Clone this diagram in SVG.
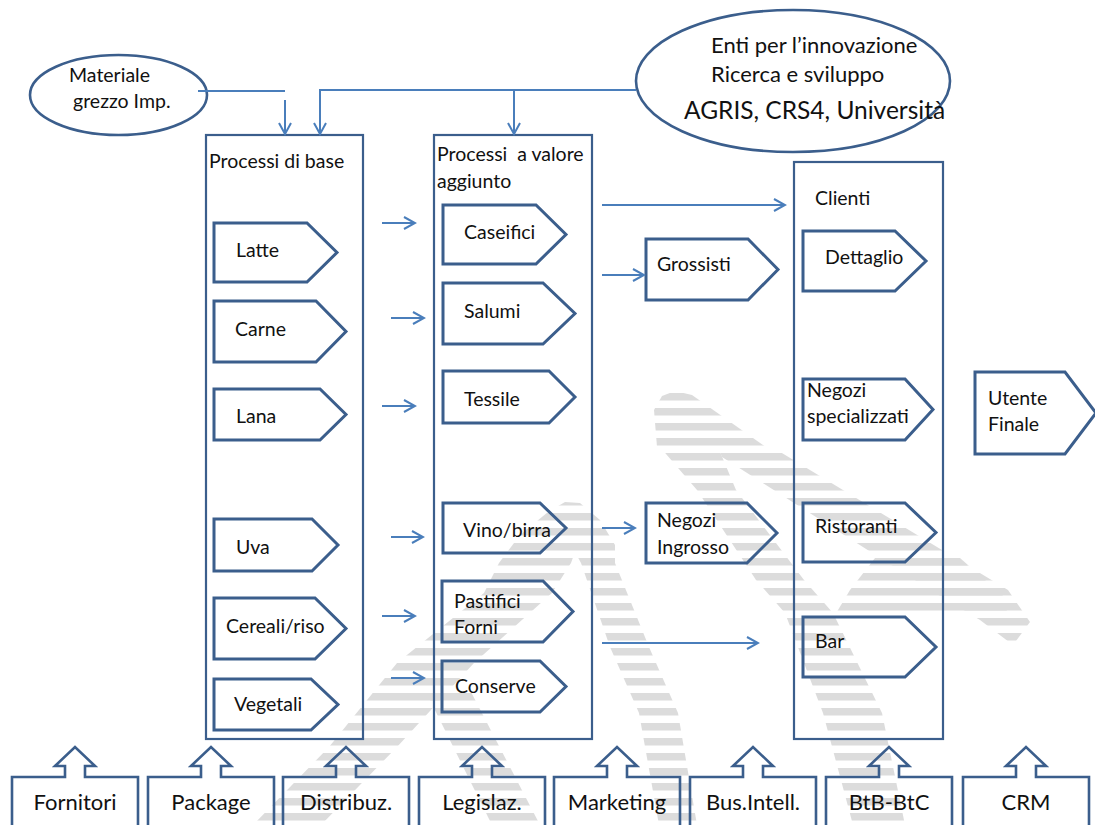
<svg xmlns="http://www.w3.org/2000/svg" width="1095" height="825" viewBox="0 0 1095 825">
  <defs>
    <style>
      .t { font-family: Lato, "Liberation Sans", sans-serif; font-size: 19.5px; fill: #111; }
      .big { font-size: 22px; }
      .huge { font-size: 24.5px; }
      .lbl { font-size: 22px; text-anchor: middle; }
      .box { fill: none; stroke: #3b5e8c; stroke-width: 2.2; }
      .pent { fill: none; stroke: #3b5e8c; stroke-width: 3; stroke-linejoin: miter; }
      .ell { fill: none; stroke: #3b5e8c; stroke-width: 2.6; }
      .up { fill: none; stroke: #3b5e8c; stroke-width: 2.6; stroke-linejoin: miter; }
      .c { fill: none; stroke: #4a7ebb; stroke-width: 2; }
      .ca { fill: none; stroke: #4a7ebb; stroke-width: 2; marker-end: url(#arr); }
    </style>
    <pattern id="hatch" patternUnits="userSpaceOnUse" x="0" y="393" width="40" height="15">
      <rect x="0" y="0" width="40" height="7.5" fill="#dcdcdc"/>
    </pattern>
    <marker id="arr" viewBox="0 0 14 14" refX="12" refY="7" markerWidth="14" markerHeight="14" markerUnits="userSpaceOnUse" orient="auto">
      <path d="M1,1 L12,7 L1,13" fill="none" stroke="#4a7ebb" stroke-width="2"/>
    </marker>
  </defs>

  <!-- background logo, striped -->
  <g id="logo" fill="url(#hatch)">
    <!-- left A -->
    <path d="M548,512 L565,502 L580,503 L600,520 L615,545 L615,563 L649,647 L678,713 L697,825 L659,825 L639,713 L610,647 L581,563 L575,552 L571,563 L552,593 L474,663 L397,747 L321,825 L253,825 L329,747 L397,663 L484,593 L499,563 L520,535 Z"/>
    <path d="M425,690 L470,690 L540,825 L492,825 Z"/>
    <!-- right A -->
    <path d="M657,447 L654,410 L662,396 L675,391 L692,395 L770,450 Z"/>
    <path d="M660,447 L718,447 L736,490 L804,580 L833,613 L882,713 L905,825 L853,825 L823,713 L785,613 L756,580 L697,490 Z"/>
    <path d="M718,447 L772,447 L1008,590 L1030,622 L1013,645 L980,620 L935,593 L722,457 Z"/>
    <path d="M875,558 L960,558 L1010,602 L1005,615 L835,615 L850,590 Z"/>
  </g>

  <!-- containers -->
  <g id="base-box"><rect class="box" x="206" y="135" width="157" height="604"/>
    <text class="t" x="209" y="168">Processi di base</text></g>
  <g id="value-box"><rect class="box" x="434" y="135" width="158" height="604"/>
    <text class="t" x="437" y="161" style="white-space:pre">Processi  a valore</text>
    <text class="t" x="437" y="188">aggiunto</text></g>
  <g id="clients-box"><rect class="box" x="794" y="162" width="149" height="577"/>
    <text class="t" x="815" y="205">Clienti</text></g>

  <!-- top ellipses -->
  <g id="materiale"><ellipse class="ell" cx="118.5" cy="95" rx="88.5" ry="40"/>
    <text class="t" x="69" y="82">Materiale</text>
    <text class="t" x="73" y="108">grezzo Imp.</text></g>
  <g id="enti"><ellipse class="ell" cx="793" cy="81" rx="157" ry="71"/>
    <text class="t big" x="711" y="53">Enti per l’innovazione</text>
    <text class="t big" x="711" y="82">Ricerca e sviluppo</text>
    <text class="t huge" x="684" y="119">AGRIS, CRS4, Università</text></g>

  <!-- basic products -->
  <g id="latte"><path class="pent" d="M214,223 H307 L337,252.5 L307,282 H214 Z"/><text class="t" x="236" y="257">Latte</text></g>
  <g id="carne"><path class="pent" d="M214,301 H316 L346,331.5 L316,362 H214 Z"/><text class="t" x="235" y="336">Carne</text></g>
  <g id="lana"><path class="pent" d="M214,389 H320 L346,414.5 L320,440 H214 Z"/><text class="t" x="236" y="423">Lana</text></g>
  <g id="uva"><path class="pent" d="M214,519 H312 L338,545 L312,571 H214 Z"/><text class="t" x="236" y="554">Uva</text></g>
  <g id="cereali"><path class="pent" d="M214,598 H315 L346,628.5 L315,659 H214 Z"/><text class="t" x="226" y="633">Cereali/riso</text></g>
  <g id="vegetali"><path class="pent" d="M214,679 H311 L338,704.5 L311,730 H214 Z"/><text class="t" x="234" y="711">Vegetali</text></g>

  <!-- value-added processes -->
  <g id="caseifici"><path class="pent" d="M443,205 H536 L566,234.5 L536,264 H443 Z"/><text class="t" x="464" y="239">Caseifici</text></g>
  <g id="salumi"><path class="pent" d="M443,283 H543 L575,313.5 L543,344 H443 Z"/><text class="t" x="464" y="318">Salumi</text></g>
  <g id="tessile"><path class="pent" d="M443,371 H549 L575,397 L549,423 H443 Z"/><text class="t" x="464" y="406">Tessile</text></g>
  <g id="vino"><path class="pent" d="M443,503 H540 L566,528 L540,553 H443 Z"/><text class="t" x="463" y="537">Vino/birra</text></g>
  <g id="pastifici"><path class="pent" d="M442,581 H543 L573,611.5 L543,642 H442 Z"/>
    <text class="t" x="454" y="608">Pastifici</text><text class="t" x="454" y="634">Forni</text></g>
  <g id="conserve"><path class="pent" d="M442,661 H540 L566,686.5 L540,712 H442 Z"/><text class="t" x="455" y="693">Conserve</text></g>

  <!-- distribution -->
  <g id="grossisti"><path class="pent" d="M646,239 H748 L778,269.5 L748,300 H646 Z"/><text class="t" x="657" y="271">Grossisti</text></g>
  <g id="ingrosso"><path class="pent" d="M646,503 H747 L777,533 L747,563 H646 Z"/>
    <text class="t" x="657" y="527">Negozi</text><text class="t" x="657" y="554">Ingrosso</text></g>

  <!-- clients -->
  <g id="dettaglio"><path class="pent" d="M803,231 H895 L926,261 L895,291 H803 Z"/><text class="t" x="825" y="264">Dettaglio</text></g>
  <g id="specializzati"><path class="pent" d="M803,379 H905 L933,409.5 L905,440 H803 Z"/>
    <text class="t" x="807" y="397">Negozi</text><text class="t" x="807" y="423">specializzati</text></g>
  <g id="ristoranti"><path class="pent" d="M803,503 H905 L936,532.5 L905,562 H803 Z"/><text class="t" x="815" y="533">Ristoranti</text></g>
  <g id="bar"><path class="pent" d="M803,617 H905 L936,647 L905,677 H803 Z"/><text class="t" x="815" y="648">Bar</text></g>
  <g id="utente"><path class="pent" d="M975,372 H1065 L1096,413 L1065,454 H975 Z"/>
    <text class="t" x="988" y="405">Utente</text><text class="t" x="988" y="431">Finale</text></g>

  <!-- support services along the bottom -->
  <g id="fornitori"><path class="up" d="M12,830 V777 H65 V766 H55 L75,747 L95,766 H85 V777 H138 V830"/><text class="t lbl" x="75" y="810">Fornitori</text></g>
  <g id="package"><path class="up" d="M148,830 V777 H201 V766 H191 L211,747 L231,766 H221 V777 H274 V830"/><text class="t lbl" x="211" y="810">Package</text></g>
  <g id="distribuz"><path class="up" d="M283,830 V777 H336 V766 H326 L346,747 L366,766 H356 V777 H409 V830"/><text class="t lbl" x="346" y="810">Distribuz.</text></g>
  <g id="legislaz"><path class="up" d="M419,830 V777 H472 V766 H462 L482,747 L502,766 H492 V777 H545 V830"/><text class="t lbl" x="482" y="810">Legislaz.</text></g>
  <g id="marketing"><path class="up" d="M554,830 V777 H607 V766 H597 L617,747 L637,766 H627 V777 H680 V830"/><text class="t lbl" x="617" y="810">Marketing</text></g>
  <g id="busintell"><path class="up" d="M690,830 V777 H743 V766 H733 L753,747 L773,766 H763 V777 H816 V830"/><text class="t lbl" x="753" y="810">Bus.Intell.</text></g>
  <g id="btb"><path class="up" d="M826,830 V777 H879 V766 H869 L889,747 L909,766 H899 V777 H952 V830"/><text class="t lbl" x="889" y="810">BtB-BtC</text></g>
  <g id="crm"><path class="up" d="M963,830 V777 H1016 V766 H1006 L1026,747 L1046,766 H1036 V777 H1089 V830"/><text class="t lbl" x="1026" y="810">CRM</text></g>

  <!-- connectors -->
  <g id="connectors">
    <path class="c" d="M198,91 H285"/>
    <path class="ca" d="M285,100 V134"/>
    <path class="ca" d="M636,90 H320 V134"/>
    <path class="ca" d="M514,90 V134"/>
    <path class="ca" d="M382,223 H415"/>
    <path class="ca" d="M391,318 H424"/>
    <path class="ca" d="M382,406 H415"/>
    <path class="ca" d="M391,537 H423"/>
    <path class="ca" d="M382,616 H415"/>
    <path class="ca" d="M391,678 H424"/>
    <path class="ca" d="M602,205 H785"/>
    <path class="ca" d="M602,275 H644"/>
    <path class="ca" d="M602,528 H635"/>
    <path class="ca" d="M602,643 H758"/>
  </g>
</svg>
